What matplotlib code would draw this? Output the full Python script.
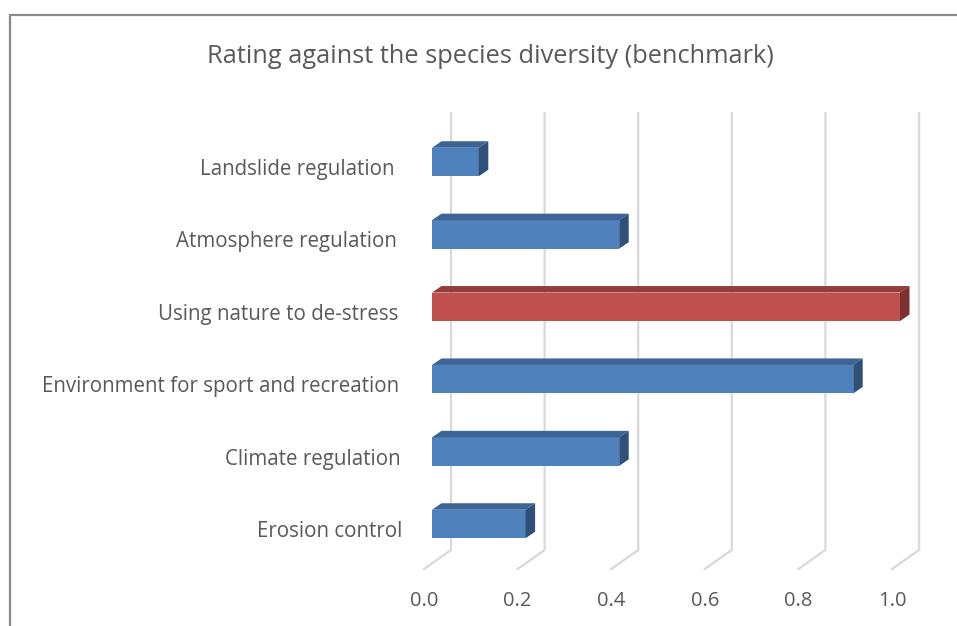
import matplotlib
matplotlib.use("Agg")
import matplotlib.pyplot as plt
from matplotlib.patches import Polygon, Rectangle
from matplotlib.lines import Line2D

# -------- data -------------------------------------------------------------
categories = ["Erosion control", "Climate regulation",
              "Environment for sport and recreation", "Using nature to de-stress",
              "Atmosphere regulation", "Landslide regulation"]
values = [0.2, 0.4, 0.9, 1.0, 0.4, 0.1]
highlight = "Using nature to de-stress"
xticks = [0.0, 0.2, 0.4, 0.6, 0.8, 1.0]
title = "Rating against the species diversity (benchmark)"

# -------- style -----------------------------------------------------------
W, H = 957, 626
TXT = "#595959"
GRID = "#d9d9d9"
BLUE = ("#4f81bd", "#3c6494", "#2f5079")   # front, top, side
RED = ("#c0504d", "#923d3b", "#7c3230")
plt.rcParams["font.family"] = ["Open Sans", "DejaVu Sans"]

fig = plt.figure(figsize=(W / 100, H / 100), dpi=100)

# axes placed in pixels: value 0 -> x=432, 1 unit = 468 px; category i -> y=524-72.4*i
PX_X, X0 = 468.0, 432.0
PX_Y, Y0 = 72.4, 524.0
ax_l, ax_r, ax_t, ax_b = 300, 950, 90, 615
ax = fig.add_axes([ax_l / W, 1 - ax_b / H, (ax_r - ax_l) / W, (ax_b - ax_t) / H])
ax.set_xlim((ax_l - X0) / PX_X, (ax_r - X0) / PX_X)
ax.set_ylim((Y0 - ax_b) / PX_Y, (Y0 - ax_t) / PX_Y)
ax.axis("off")

def dx(px):
    return px / PX_X

def dy(px):
    return px / PX_Y

# gridlines: back wall + slanted floor part
wall_bot = dy(Y0 - 550)
wall_top = dy(Y0 - 113)
floor_front = dy(Y0 - 569)
for v in xticks:
    xb = v + dx(19)
    xf = v - dx(8)
    ax.plot([xf, xb, xb], [floor_front, wall_bot, wall_top], color=GRID,
            lw=1.6, solid_joinstyle="miter", zorder=1)
    ax.text(xf, dy(Y0 - 601), f"{v:.1f}", ha="center", va="center",
            color=TXT, fontsize=14.5)

# bars (pseudo 3D)
h = dy(28.5)
ddx, ddy = dx(9.5), dy(6.5)
for i, (cat, v) in enumerate(zip(categories, values)):
    front, top, side = RED if cat == highlight else BLUE
    y0, y1 = i - h / 2, i + h / 2
    ax.add_patch(Rectangle((0, y0), v, h, facecolor=front, edgecolor="none", zorder=3))
    ax.add_patch(Polygon([(0, y1), (v, y1), (v + ddx, y1 + ddy), (ddx, y1 + ddy)],
                         closed=True, facecolor=top, edgecolor="none", zorder=3))
    ax.add_patch(Polygon([(v, y0), (v, y1), (v + ddx, y1 + ddy), (v + ddx, y0 + ddy)],
                         closed=True, facecolor=side, edgecolor="none", zorder=3))
    # category label, slight perspective shift toward the bottom
    lx = -dx(37) + dx(1.5) * (len(categories) - 1 - i)
    ax.text(lx, i - dy(13), cat, ha="right", va="baseline", color=TXT, fontsize=14.8)

# title and chart frame
fig.text(490 / W, 1 - 63 / H, title, ha="center", va="baseline", color=TXT, fontsize=18.3)
fig.add_artist(Line2D([9.5 / W, 9.5 / W, 1], [0, 1 - 14.5 / H, 1 - 14.5 / H],
                      transform=fig.transFigure, color="#898989", lw=1.6))

fig.savefig("out.png", dpi=100)
